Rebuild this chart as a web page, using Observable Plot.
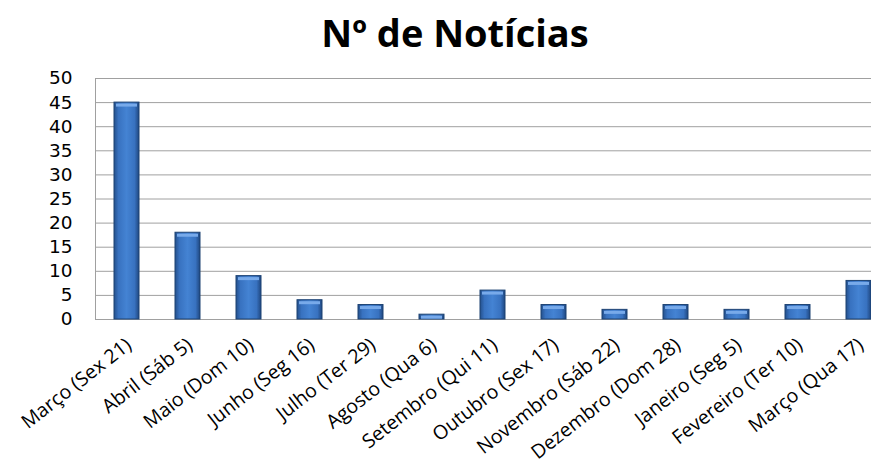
<!DOCTYPE html>
<html>
<head>
<meta charset="utf-8">
<script src="https://cdn.jsdelivr.net/npm/d3@7"></script>
<script src="https://cdn.jsdelivr.net/npm/@observablehq/plot@0.6"></script>
<style>
  html, body { margin: 0; padding: 0; background: #fff; overflow: hidden; width: 871px; height: 463px; }
  #title { width: 910px; height: 60px; box-sizing: border-box; padding-top: 13px; text-align: center;
           font-family: "Open Sans", sans-serif; font-weight: bold; font-size: 38px; line-height: 1; color: #000; }
  #chart { width: 890px; }
  #chart svg { display: block; overflow: visible; max-width: none !important; width: 890px !important; height: 403px !important; }
</style>
</head>
<body>
<div id="title">Nº de Notícias</div>
<div id="chart"></div>
<script>
const categories = [
  "Março (Sex 21)", "Abril (Sáb 5)", "Maio (Dom 10)", "Junho (Seg 16)", "Julho (Ter 29)",
  "Agosto (Qua 6)", "Setembro (Qui 11)", "Outubro (Sex 17)", "Novembro (Sáb 22)",
  "Dezembro (Dom 28)", "Janeiro (Seg 5)", "Fevereiro (Ter 10)", "Março (Qua 17)"
];
const values = [45, 18, 9, 4, 3, 1, 6, 3, 2, 3, 2, 3, 8];
const yTicks = [0, 5, 10, 15, 20, 25, 30, 35, 40, 45, 50];

const data = categories.map((c, i) => ({cat: c, value: values[i]}));

const svg = Plot.plot({
  width: 890,
  height: 403,
  marginLeft: 95,
  marginRight: 0,
  marginTop: 18,
  marginBottom: 144,
  style: {background: "transparent", overflow: "visible"},
  x: {domain: categories, paddingInner: 0.59, paddingOuter: 0.295, label: null},
  y: {domain: [0, 50], label: null},
  marks: [
    Plot.gridY(yTicks, {stroke: "#a0a0a0", strokeOpacity: 1, strokeWidth: 1}),
    Plot.frame({anchor: "left", stroke: "#a0a0a0"}),
    Plot.barY(data, {x: "cat", y: "value", fill: "url(#barGrad)", stroke: "#1d4272", strokeWidth: 1}),
    Plot.tickY(data, {x: "cat", y: "value", stroke: "#78aaea", strokeWidth: 3, dy: 2.5, inset: 2}),
    Plot.axisY(yTicks, {tickSize: 0, tickPadding: 23, fontSize: 18.5, fontFamily: "DejaVu Sans", fill: "#000", label: null}),
    Plot.axisX({tickSize: 0, tickPadding: 23, tickRotate: -38, fontSize: 19.5, fontFamily: "Open Sans", fill: "#000", label: null, dx: 2})
  ]
});

const defs = d3.select(svg).insert("defs", ":first-child");
const g = defs.append("linearGradient").attr("id", "barGrad").attr("x1", "0").attr("x2", "1").attr("y1", "0").attr("y2", "0");
[["0", "#24508c"], ["0.18", "#3872c0"], ["0.5", "#4483d3"], ["0.82", "#3872c0"], ["1", "#1f4780"]]
  .forEach(([o, c]) => g.append("stop").attr("offset", o).attr("stop-color", c));

document.getElementById("chart").appendChild(svg);
</script>
</body>
</html>
